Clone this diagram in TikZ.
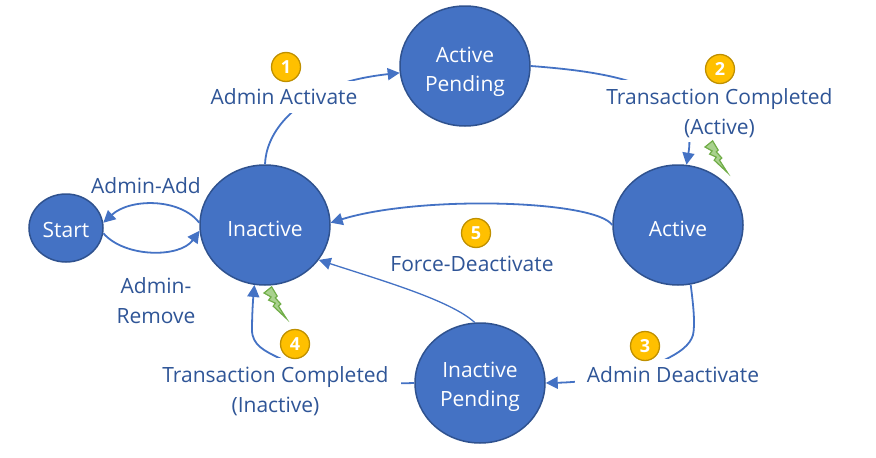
\documentclass[tikz,border=0pt]{standalone}
\usepackage{fontspec}
\setmainfont{Open Sans}
\usetikzlibrary{shapes.geometric,arrows.meta}
\definecolor{statefill}{HTML}{4472C4}
\definecolor{stateline}{HTML}{2F528F}
\definecolor{labeltext}{HTML}{2F5597}
\definecolor{badgefill}{HTML}{FFC000}
\definecolor{badgeline}{HTML}{BF9000}
\definecolor{boltfill}{HTML}{A9D18E}
\definecolor{boltline}{HTML}{70AD47}
\tikzset{
  state/.style={ellipse,draw=stateline,line width=1.5pt,fill=statefill,text=white,inner sep=0pt,text depth=0pt,text height=22pt,
    minimum width=130pt,minimum height=120pt,align=center,font=\fontsize{21}{29}\selectfont},
  link/.style={draw=statefill,line width=1.8pt,-{Triangle[length=12pt,width=12pt]}},
  thinlink/.style={link,line width=1.3pt},
  tag/.style={fill=white,text=labeltext,inner xsep=12pt,inner ysep=8pt,align=center,font=\fontsize{21}{30}\selectfont},
  badge/.style={circle,draw=badgeline,line width=1.3pt,fill=badgefill,text=white,inner sep=0pt,
    minimum size=29pt,font=\fontsize{18}{20}\selectfont\bfseries},
  bolt/.pic={
    \draw[draw=boltline,fill=boltfill,line width=1.2pt,line join=miter,scale=0.92]
      (0,0) -- (8.3,-6.7) -- (14.3,3.3) -- (12.3,5.3) -- (18.3,12) -- (15.7,14.3) -- (24.3,27.7)
      -- (10,14.3) -- (12.3,11) -- (5,7.7) -- (7.7,4.3) -- cycle;
  }
}
\begin{document}
\begin{tikzpicture}[x=1pt,y=-1pt]
  \useasboundingbox (0,0) rectangle (876,458);
  \node[state,minimum width=74pt,minimum height=68pt,text height=19pt] (start) at (66,228) {Start};
  \node[state] (inactive) at (265,225) {Inactive};
  \node[state,text height=50pt] (activepending) at (465,66) {Active\\Pending};
  \node[state] (active) at (678,225) {Active};
  \node[state,text height=46pt] (inactivepending) at (480,383) {Inactive\\Pending};

  \draw[link] (inactive.north) .. controls (266,135) and (290,100) .. (350,81) .. controls (365,77) and (380,75) .. (activepending.186);
  \draw[link] (activepending.east) .. controls (610,72) and (700,85) .. (active.82);
  \draw[link] (active.-78) .. controls (694,310) and (695,325) .. (693,335) .. controls (690,345) and (680,353) .. (660,362) .. controls (630,375) and (590,382) .. (inactivepending.east);
  \draw[link] (inactivepending.west) .. controls (360,385) and (310,372) .. (277,357) .. controls (265,351) and (252,345) .. (252,330) .. controls (252,315) and (253,300) .. (inactive.260);
  \draw[link] (active.west) .. controls (595,200) and (420,195) .. (inactive.2);
  \draw[thinlink] (inactivepending.95) .. controls (450,300) and (380,280) .. (inactive.-33);
  \draw[link] (inactive.178) .. controls (180,198) and (130,198) .. (start.8);
  \draw[link] (start.-8) .. controls (125,258) and (180,258) .. (inactive.-175);

  \node[tag] (activatetag) at (284,97) {Admin Activate};
  \node[tag,text depth=-8pt,anchor=north] (completedtag) at (719.5,80) {Transaction Completed\\(Active)};
  \node[tag,fill=none] (addtag) at (146,186) {Admin-Add};
  \node[tag] (removetag) at (156,301) {Admin-\\Remove};
  \node[tag,fill=none] (forcetag) at (472,264) {Force-Deactivate};
  \node[tag] (deactivatetag) at (673,375) {Admin Deactivate};
  \node[tag] (finishtag) at (275.5,391) {Transaction Completed\\(Inactive)};

  \node[badge] (badgea) at (286,67) {1};
  \node[badge] (badgeb) at (720,69) {2};
  \node[badge] (badgec) at (645,346) {3};
  \node[badge] (badged) at (295,344) {4};
  \node[badge] (badgee) at (476,233) {5};

  \pic at (705,147) {bolt};
  \pic at (264,293) {bolt};
\end{tikzpicture}
\end{document}
